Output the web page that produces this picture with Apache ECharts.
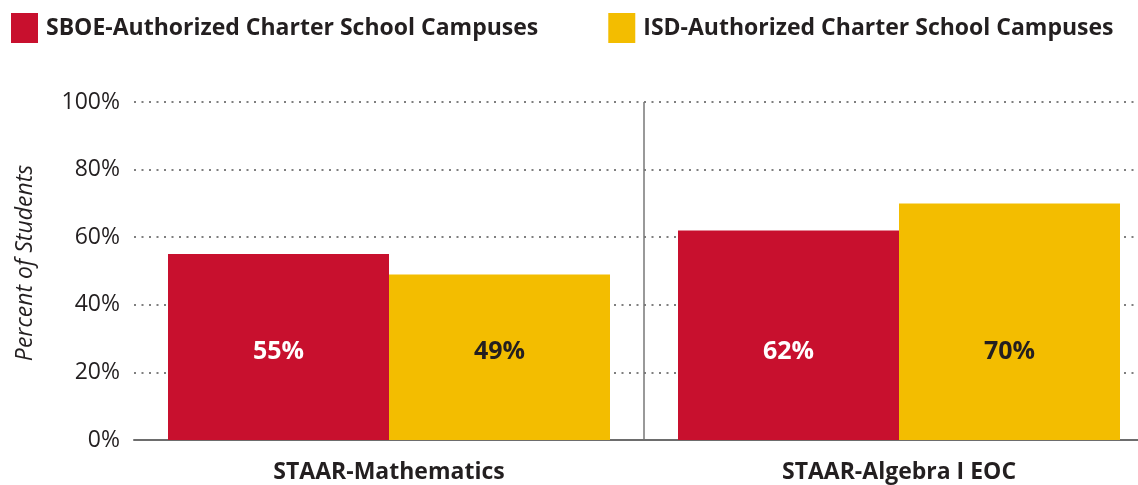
<!DOCTYPE html>
<html>
<head>
<meta charset="utf-8">
<script src="https://cdn.jsdelivr.net/npm/echarts@6/dist/echarts.min.js"></script>
<style>
html,body{margin:0;padding:0;background:#fff;overflow:hidden;}
#chart{width:1154px;height:485px;}
</style>
</head>
<body>
<div id="chart"></div>
<script>
// chart data
const categories = ["STAAR-Mathematics", "STAAR-Algebra I EOC"];
const seriesNames = ["SBOE-Authorized Charter School Campuses", "ISD-Authorized Charter School Campuses"];
const sboeValues = [55, 62];
const isdValues = [49, 70];
const yTicks = [0, 20, 40, 60, 80, 100];

const RED = "#C8102E";
const YELLOW = "#F3BD00";
const INK = "#231F20";
const FONT = "'Open Sans', sans-serif";

// the plot runs past the right edge of the window, so the div is a bit wider
const chart = echarts.init(document.getElementById("chart"));

chart.setOption({
  animation: false,
  textStyle: { fontFamily: FONT },
  legend: {
    left: 11,
    top: 13,
    padding: 0,
    itemWidth: 27,
    itemHeight: 30,
    itemGap: 70,
    icon: "rect",
    textStyle: { fontSize: 23, fontWeight: "bold", color: INK, fontFamily: FONT, padding: [0, 0, 0, 3] },
    data: seriesNames
  },
  grid: { left: 134, top: 102, right: 0, bottom: 45, containLabel: false },
  xAxis: {
    type: "category",
    data: categories,
    axisLine: { lineStyle: { color: "#6d6d6d", width: 2 } },
    axisTick: { show: false },
    axisLabel: { margin: 21, fontSize: 23, fontWeight: "bold", color: INK, fontFamily: FONT },
    splitLine: { show: true, showMinLine: false, showMaxLine: false, lineStyle: { color: "#777", width: 1.5 } }
  },
  yAxis: {
    type: "value",
    min: yTicks[0],
    max: yTicks[yTicks.length - 1],
    interval: 20,
    name: "Percent of Students",
    nameLocation: "middle",
    nameGap: 97,
    nameTextStyle: { fontSize: 23, fontStyle: "italic", color: INK, fontFamily: FONT, padding: [0, 0, 0, 16] },
    axisLine: { show: false },
    axisTick: { show: false },
    axisLabel: { margin: 14, fontSize: 23, color: INK, fontFamily: FONT, formatter: "{value}%" },
    splitLine: { lineStyle: { color: "#555", width: 1.5, type: [2, 5.5] } }
  },
  series: [
    {
      name: seriesNames[0],
      type: "bar",
      data: sboeValues,
      barWidth: 221,
      barGap: "0%",
      itemStyle: { color: RED },
      label: { show: true, position: "insideBottom", distance: 76, formatter: "{c}%", fontSize: 25, fontWeight: "bold", color: "#fff", fontFamily: FONT }
    },
    {
      name: seriesNames[1],
      type: "bar",
      data: isdValues,
      barWidth: 221,
      itemStyle: { color: YELLOW },
      label: { show: true, position: "insideBottom", distance: 76, formatter: "{c}%", fontSize: 25, fontWeight: "bold", color: INK, fontFamily: FONT }
    }
  ]
});
</script>
</body>
</html>
